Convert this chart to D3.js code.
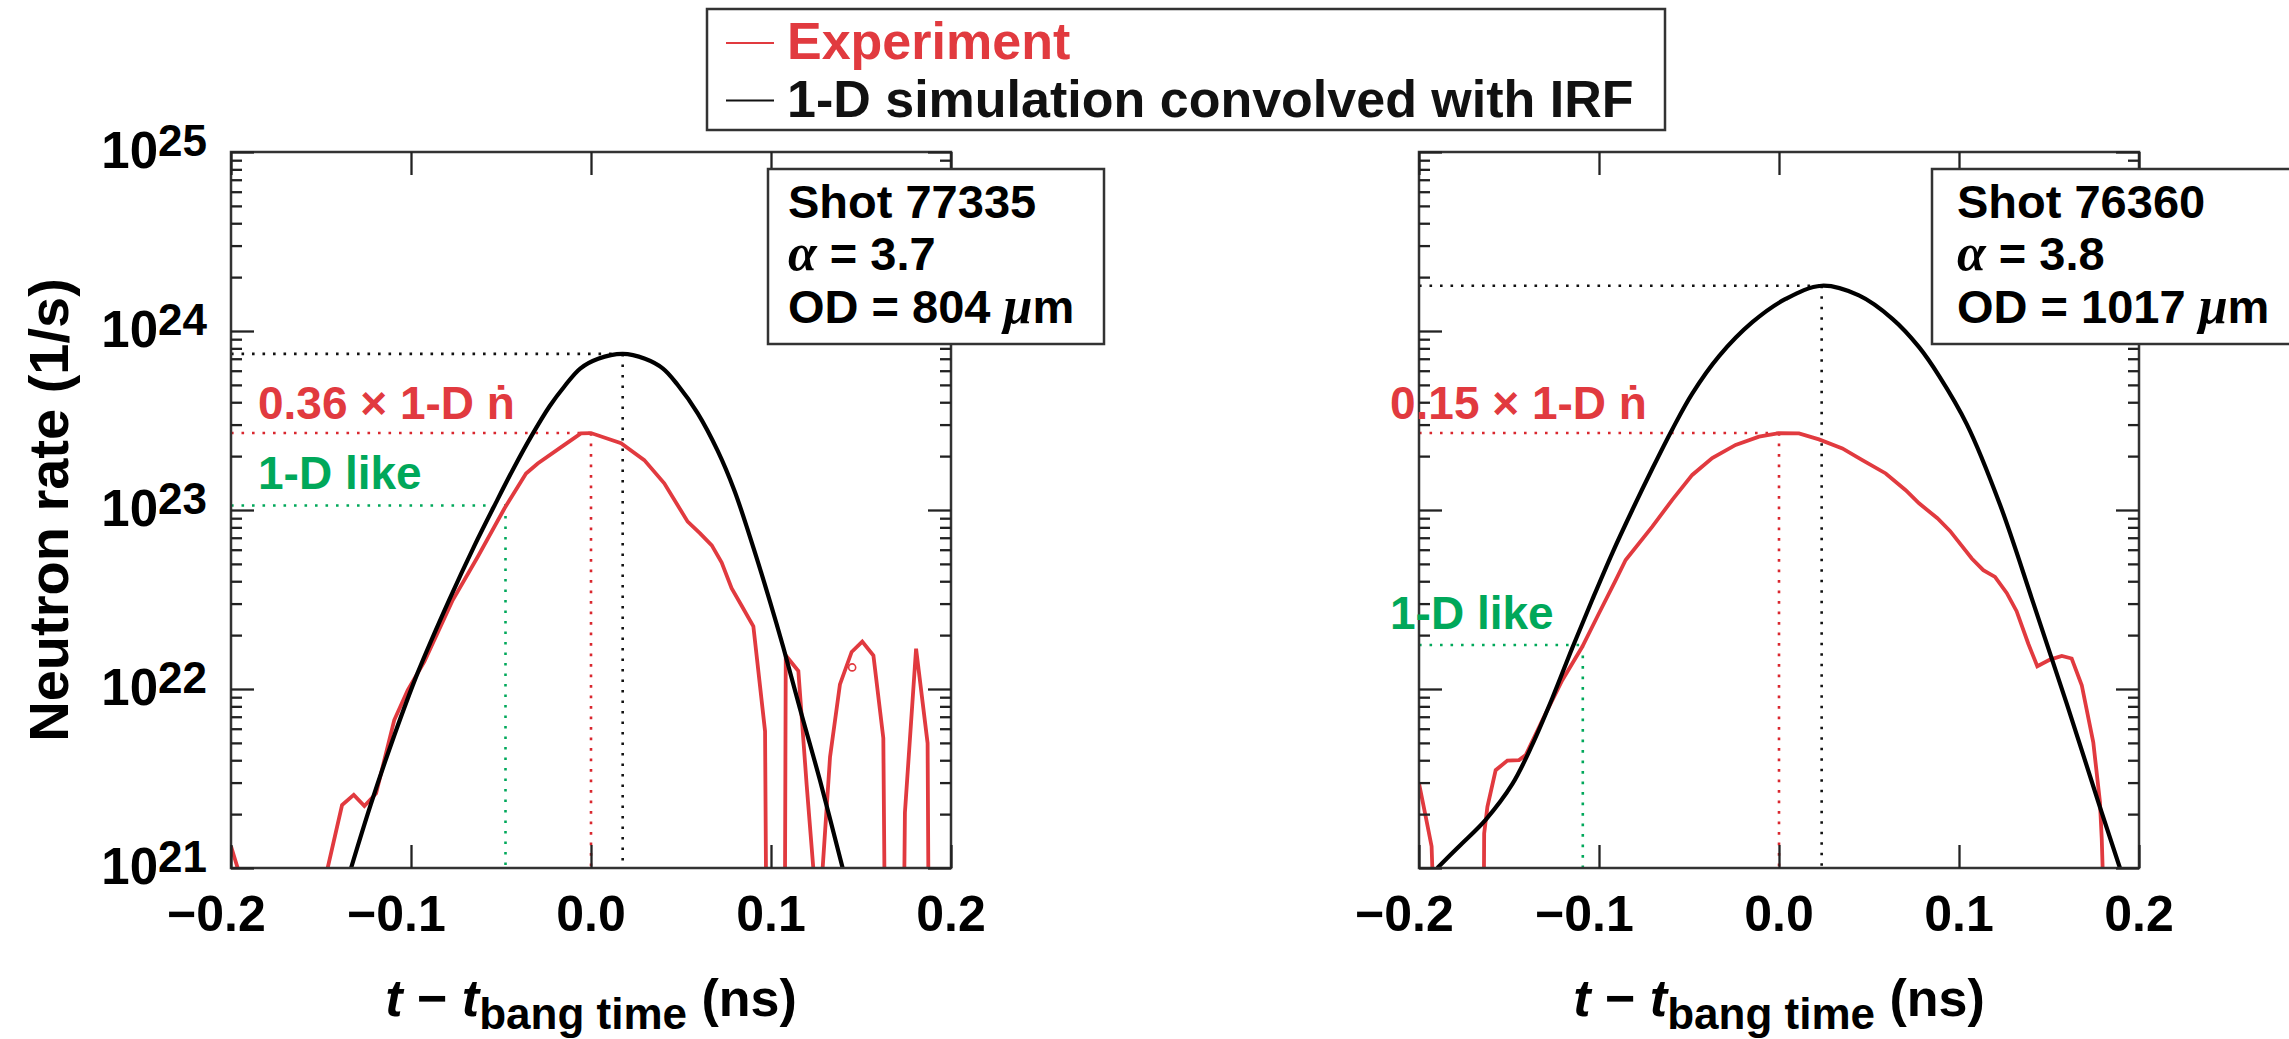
<!DOCTYPE html>
<html>
<head>
<meta charset="utf-8">
<script src="https://cdn.jsdelivr.net/npm/d3@7"></script>
<style>
  html, body { margin: 0; padding: 0; background: #fff; }
  svg { display: block; }
  text { font-family: "Liberation Sans", Arial, Helvetica, sans-serif; font-weight: bold; }
</style>
</head>
<body>
<svg id="chart" width="2289" height="1039"></svg>
<script>
// ---- data ----
const xTicks = [-0.2, -0.1, 0.0, 0.1, 0.2];
const yExponents = [21, 22, 23, 24, 25];
const legendLabels = ["Experiment", "1-D simulation convolved with IRF"];

const shotNames = ["Shot 77335", "Shot 76360"];
const alphaValues = ["3.7", "3.8"];
const odValues = ["804", "1017"];
const yieldFractions = ["0.36", "0.15"];

const simPeakTime = [0.0176, 0.0237];
const simPeakRate = [7.45e23, 1.79e24];
const expPeakTime = [0.0, 0.0];
const expPeakRate = [2.69e23, 2.69e23];
const likeTime = [-0.0475, -0.109];
const likeRate = [1.06e23, 1.76e22];

// [t - t_bang (ns), neutron rate (1/s)]; null = below 1e21
const sim77335 = [
  [-0.1333, 1.0e21], [-0.1222, 2.29e21], [-0.1093, 5.50e21], [-0.0963, 1.23e22],
  [-0.0787, 3.16e22], [-0.0648, 6.31e22], [-0.0528, 1.10e23], [-0.0426, 1.74e23],
  [-0.0333, 2.57e23], [-0.0230, 3.80e23], [-0.0148, 4.90e23], [-0.0060, 6.17e23],
  [0.0040, 7.00e23], [0.0176, 7.45e23], [0.0300, 7.00e23], [0.0400, 6.17e23],
  [0.0481, 5.01e23], [0.0593, 3.47e23], [0.0704, 2.14e23], [0.0796, 1.29e23],
  [0.0880, 7.24e22], [0.0994, 3.09e22], [0.1069, 1.70e22], [0.1161, 7.76e21],
  [0.1272, 3.09e21], [0.1398, 1.0e21]
];

const exp77335 = [
  [-0.2000, 1.32e21], [-0.1963, 1.0e21], [-0.17, null], [-0.1463, 1.0e21],
  [-0.1383, 2.25e21], [-0.1318, 2.56e21], [-0.1259, 2.22e21], [-0.1194, 2.61e21],
  [-0.1093, 6.71e21], [-0.1018, 9.86e21], [-0.0926, 1.42e22], [-0.0768, 3.14e22],
  [-0.0629, 5.48e22], [-0.0481, 1.02e23], [-0.0361, 1.60e23], [-0.0296, 1.82e23],
  [-0.0148, 2.31e23], [-0.0056, 2.68e23], [0.0, 2.69e23], [0.0167, 2.36e23],
  [0.0296, 1.90e23], [0.0407, 1.41e23], [0.0537, 8.61e22], [0.0606, 7.41e22],
  [0.0671, 6.35e22], [0.0726, 5.09e22], [0.0781, 3.66e22], [0.0837, 2.92e22],
  [0.0902, 2.24e22], [0.0967, 5.81e21], [0.0972, 1.0e21], [0.100, null],
  [0.1078, 1.0e21], [0.1082, 1.54e22], [0.1152, 1.26e22], [0.1198, 2.92e21],
  [0.1235, 1.0e21], [0.126, null], [0.1287, 1.0e21], [0.1328, 4.17e21],
  [0.1383, 1.06e22], [0.1448, 1.61e22], [0.1507, 1.84e22], [0.1569, 1.54e22],
  [0.1624, 5.32e21], [0.1630, 1.0e21], [0.168, null], [0.1741, 1.0e21],
  [0.1744, 2.04e21], [0.1806, 1.68e22], [0.1870, 4.98e21], [0.1874, 1.0e21]
];
const exp77335Marker = [[0.1451, 1.32e22]];

const sim76360 = [
  [-0.1898, 1.0e21], [-0.1778, 1.32e21], [-0.1630, 1.86e21], [-0.1481, 2.95e21],
  [-0.1370, 4.90e21], [-0.1259, 8.91e21], [-0.1148, 1.70e22], [-0.1037, 3.16e22],
  [-0.0926, 5.75e22], [-0.0815, 1.0e23], [-0.0704, 1.70e23], [-0.0593, 2.82e23],
  [-0.0482, 4.47e23], [-0.0333, 7.24e23], [-0.0148, 1.12e24], [0.0037, 1.51e24],
  [0.0237, 1.79e24], [0.0444, 1.58e24], [0.0630, 1.17e24], [0.0778, 8.13e23],
  [0.0889, 5.62e23], [0.1043, 3.02e23], [0.1228, 1.07e23], [0.1413, 3.02e22],
  [0.1598, 8.32e21], [0.1783, 2.19e21], [0.1894, 1.0e21]
];

const exp76360 = [
  [-0.2000, 2.97e21], [-0.1963, 1.94e21], [-0.1930, 1.32e21], [-0.1926, 1.0e21],
  [-0.18, null], [-0.1639, 1.0e21], [-0.1638, 1.56e21], [-0.1620, 2.20e21],
  [-0.1574, 3.52e21], [-0.1509, 3.98e21], [-0.1444, 4.01e21], [-0.1407, 4.28e21],
  [-0.1296, 7.31e21], [-0.1204, 1.12e22], [-0.1093, 1.72e22], [-0.1000, 2.65e22],
  [-0.0907, 4.06e22], [-0.0852, 5.26e22], [-0.0704, 8.07e22], [-0.0593, 1.14e23],
  [-0.0482, 1.57e23], [-0.0371, 1.95e23], [-0.0241, 2.31e23], [-0.0111, 2.57e23],
  [0.0, 2.69e23], [0.0111, 2.68e23], [0.0222, 2.48e23], [0.0352, 2.21e23],
  [0.0463, 1.90e23], [0.0593, 1.60e23], [0.0704, 1.29e23], [0.0778, 1.09e23],
  [0.0880, 8.99e22], [0.0950, 7.64e22], [0.1071, 5.36e22], [0.1135, 4.61e22],
  [0.1200, 4.23e22], [0.1265, 3.44e22], [0.1320, 2.72e22], [0.1385, 1.79e22],
  [0.1435, 1.34e22], [0.1506, 1.46e22], [0.1571, 1.53e22], [0.1626, 1.48e22],
  [0.1682, 1.05e22], [0.1746, 5.04e21], [0.1783, 2.34e21], [0.1793, 1.46e21],
  [0.1798, 1.0e21]
];

// ---- layout ----
const RED = "#e13a3f", GREEN = "#00a85a", FRAME = "#333";
const plotTop = 152, plotBottom = 868, panelW = 720;

const panels = [
  { x0: 231, sim: sim77335, exp: exp77335, marker: exp77335Marker, yLabels: true,
    noteX: 258, boxX: 768, boxW: 336, boxTextX: 788 },
  { x0: 1419, sim: sim76360, exp: exp76360, marker: [], yLabels: false,
    noteX: 1390, boxX: 1932, boxW: 400, boxTextX: 1957 }
];

const svg = d3.select("#chart");
const y = d3.scaleLog().domain([1e21, 1e25]).range([plotBottom, plotTop]);

const majors = yExponents.map(e => Math.pow(10, e));
const minors = [];
yExponents.slice(0, -1).forEach(e => {
  for (let m = 2; m <= 9; m++) minors.push(m * Math.pow(10, e));
});

function tickAxis(g, axis, values, size) {
  g.call(axis.tickValues(values).tickSize(size).tickFormat(""));
  g.select(".domain").remove();
  g.selectAll("text").remove();
  g.selectAll("line").attr("stroke", "#222").attr("stroke-width", 2.3);
}

function dotted(g, x1, y1, x2, y2, color) {
  g.append("line")
    .attr("x1", x1).attr("y1", y1).attr("x2", x2).attr("y2", y2)
    .attr("stroke", color).attr("stroke-width", 2.6)
    .attr("stroke-dasharray", "2.6,7.9");
}

panels.forEach((p, i) => {
  const x = d3.scaleLinear().domain([-0.2, 0.2]).range([p.x0, p.x0 + panelW]);
  const g = svg.append("g");

  const clipId = "clip" + i;
  svg.append("clipPath").attr("id", clipId)
    .append("rect").attr("x", p.x0).attr("y", plotTop).attr("width", panelW).attr("height", plotBottom - plotTop);

  const plot = g.append("g").attr("clip-path", `url(#${clipId})`);

  // dotted guides
  const xs = x(simPeakTime[i]), ys = y(simPeakRate[i]);
  dotted(plot, p.x0, ys, xs, ys, "#111");
  dotted(plot, xs, ys, xs, plotBottom, "#111");
  const xe = x(expPeakTime[i]), ye = y(expPeakRate[i]);
  dotted(plot, p.x0, ye, xe, ye, "#d9272e");
  dotted(plot, xe, ye, xe, plotBottom, "#d9272e");
  const xl = x(likeTime[i]), yl = y(likeRate[i]);
  dotted(plot, p.x0, yl, xl, yl, GREEN);
  dotted(plot, xl, yl, xl, plotBottom, GREEN);

  // curves
  const expLine = d3.line().defined(d => d[1] != null).x(d => x(d[0])).y(d => y(d[1]));
  const simLine = d3.line().x(d => x(d[0])).y(d => y(d[1])).curve(d3.curveCatmullRom.alpha(0.5));

  plot.append("path").datum(p.exp)
    .attr("d", expLine).attr("fill", "none")
    .attr("stroke", RED).attr("stroke-width", 3.8).attr("stroke-linejoin", "miter");
  plot.append("path").datum(p.sim)
    .attr("d", simLine).attr("fill", "none")
    .attr("stroke", "#000").attr("stroke-width", 4.2);
  plot.selectAll(".marker").data(p.marker).join("circle")
    .attr("class", "marker")
    .attr("cx", d => x(d[0])).attr("cy", d => y(d[1])).attr("r", 3.5)
    .attr("fill", "none").attr("stroke", RED).attr("stroke-width", 1.6);

  // frame
  g.append("rect").attr("x", p.x0).attr("y", plotTop).attr("width", panelW).attr("height", plotBottom - plotTop)
    .attr("fill", "none").attr("stroke", FRAME).attr("stroke-width", 2.5);

  // inward ticks on all four sides
  tickAxis(g.append("g").attr("transform", `translate(${p.x0},0)`), d3.axisLeft(y), majors, -23);
  tickAxis(g.append("g").attr("transform", `translate(${p.x0},0)`), d3.axisLeft(y), minors, -11);
  tickAxis(g.append("g").attr("transform", `translate(${p.x0 + panelW},0)`), d3.axisRight(y), majors, -23);
  tickAxis(g.append("g").attr("transform", `translate(${p.x0 + panelW},0)`), d3.axisRight(y), minors, -11);
  tickAxis(g.append("g").attr("transform", `translate(0,${plotBottom})`), d3.axisBottom(x), xTicks, -23);
  tickAxis(g.append("g").attr("transform", `translate(0,${plotTop})`), d3.axisTop(x), xTicks, -23);

  // x tick labels: numeric part centred on the tick, minus hangs left
  const probe = g.append("text").attr("font-size", 50).text("0.0");
  const halfNum = probe.node().getComputedTextLength() / 2;
  probe.remove();
  g.selectAll(".xlab").data(xTicks).join("text")
    .attr("class", "xlab")
    .attr("x", d => x(d) + halfNum).attr("y", 931)
    .attr("text-anchor", "end").attr("font-size", 50)
    .text(d => (d < 0 ? "\u2212" : "") + Math.abs(d).toFixed(1));

  // x title
  const title = g.append("text")
    .attr("x", p.x0 + panelW / 2).attr("y", 1016)
    .attr("text-anchor", "middle").attr("font-size", 52);
  title.append("tspan").attr("font-style", "italic").text("t");
  title.append("tspan").text(" \u2212 ");
  title.append("tspan").attr("font-style", "italic").text("t");
  title.append("tspan").attr("font-size", 44).attr("dy", 13).text("bang time");
  title.append("tspan").attr("dy", -13).text(" (ns)");

  // y tick labels
  if (p.yLabels) {
    const lab = g.selectAll(".ylab").data(yExponents).join("text")
      .attr("class", "ylab")
      .attr("x", 207).attr("y", d => y(Math.pow(10, d)) + 16)
      .attr("text-anchor", "end").attr("font-size", 51);
    lab.append("tspan").text("10");
    lab.append("tspan").attr("font-size", 44).attr("dy", -12).text(d => d);
  }

  // annotations
  g.append("text").attr("x", p.noteX).attr("y", ye - 14)
    .attr("font-size", 46).attr("fill", RED)
    .text(yieldFractions[i] + " \u00d7 1-D \u1e45");
  g.append("text").attr("x", p.noteX).attr("y", yl - 16)
    .attr("font-size", 46).attr("fill", GREEN).text("1-D like");

  // shot box
  g.append("rect").attr("x", p.boxX).attr("y", 169).attr("width", p.boxW).attr("height", 175)
    .attr("fill", "#fff").attr("stroke", FRAME).attr("stroke-width", 2.5);
  const bt = g.append("text").attr("font-size", 47);
  bt.append("tspan").attr("x", p.boxTextX).attr("y", 218).text(shotNames[i]);
  const l2 = bt.append("tspan").attr("x", p.boxTextX).attr("y", 270);
  l2.append("tspan").attr("font-family", "'Liberation Serif', 'Times New Roman', serif")
    .attr("font-style", "italic").attr("font-size", 52).text("\u03b1");
  l2.append("tspan").text(" = " + alphaValues[i]);
  const l3 = bt.append("tspan").attr("x", p.boxTextX).attr("y", 323);
  l3.append("tspan").text("OD = " + odValues[i] + " ");
  l3.append("tspan").attr("font-family", "'Liberation Serif', 'Times New Roman', serif")
    .attr("font-style", "italic").attr("font-size", 52).text("\u03bc");
  l3.append("tspan").text("m");
});

// y axis title
svg.append("text")
  .attr("transform", `translate(68,${(plotTop + plotBottom) / 2}) rotate(-90)`)
  .attr("text-anchor", "middle").attr("font-size", 56)
  .text("Neutron rate (1/s)");

// legend
const legend = svg.append("g");
legend.append("rect").attr("x", 707).attr("y", 9).attr("width", 958).attr("height", 121)
  .attr("fill", "#fff").attr("stroke", FRAME).attr("stroke-width", 2.5);
const legendColors = [RED, "#111"];
legendLabels.forEach((label, k) => {
  const ly = 43 + k * 57.5;
  legend.append("line").attr("x1", 726).attr("x2", 774).attr("y1", ly).attr("y2", ly)
    .attr("stroke", legendColors[k]).attr("stroke-width", 2);
  legend.append("text").attr("x", 787).attr("y", 59 + k * 58)
    .attr("font-size", 52).attr("fill", k === 0 ? RED : "#111").text(label);
});
</script>
</body>
</html>
